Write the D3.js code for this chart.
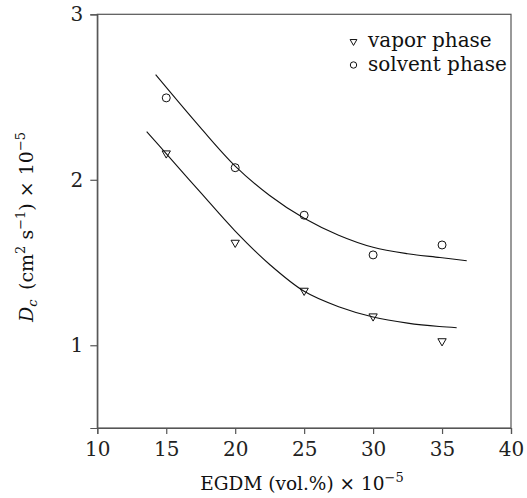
<!DOCTYPE html>
<html><head><meta charset="utf-8">
<script src="https://cdn.jsdelivr.net/npm/d3@7"></script>
<style>body{margin:0;background:#fff}svg{display:block}</style>
</head><body><svg id="c" width="527" height="498"></svg>
<script>
const xTicks = [10, 15, 20, 25, 30, 35, 40];
const yTicks = [1, 2, 3];
const egdm = [15, 20, 25, 30, 35];
const vapor = [2.16, 1.62, 1.33, 1.175, 1.025];
const solvent = [2.495, 2.073, 1.786, 1.546, 1.606];
// fitted trend curves
const vaporFitX = [13.58, 14.98, 17.5, 20, 22.5, 25, 27.5, 30, 32.5, 34.8, 36.06];
const vaporFitY = [2.291, 2.16, 1.922, 1.69, 1.488, 1.326, 1.233, 1.171, 1.134, 1.113, 1.106];
const solventFitX = [14.23, 17.45, 20, 22.5, 25, 27.5, 30, 32.5, 34.85, 36.79];
const solventFitY = [2.635, 2.318, 2.083, 1.905, 1.767, 1.665, 1.592, 1.553, 1.530, 1.511];
const legendLabels = ["vapor phase", "solvent phase"];

const svg = d3.select("#c");
const L = 97.3, R = 511, T = 14.3, B = 428;
const x = d3.scaleLinear().domain([10, 40]).range([L, R]);
const y = d3.scaleLinear().domain([0.5, 3]).range([B, T]);
const font = "DejaVu Serif";
const axCol = "#555";

// frame
svg.append("rect").attr("x", L).attr("y", T).attr("width", R - L).attr("height", B - T)
  .attr("fill", "none").attr("stroke", axCol).attr("stroke-width", 1.2);

const xa = svg.append("g").attr("transform", `translate(0,${B})`)
  .call(d3.axisBottom(x).tickValues(xTicks).tickSize(6).tickPadding(8).tickFormat(d3.format("d")));
const ya = svg.append("g").attr("transform", `translate(${L},0)`)
  .call(d3.axisLeft(y).tickValues(yTicks).tickSize(7).tickPadding(7).tickFormat(d3.format("d")));
[xa, ya].forEach(a => {
  a.select(".domain").attr("stroke", axCol).attr("stroke-width", 1.2);
  a.selectAll(".tick line").attr("stroke", axCol).attr("stroke-width", 1.2);
  a.selectAll("text").attr("font-family", font).attr("font-size", 20).attr("fill", "#222");
});

// curves
const line = d3.line().x(d => x(d[0])).y(d => y(d[1])).curve(d3.curveCatmullRom.alpha(0.5));
svg.append("path").datum(d3.zip(solventFitX, solventFitY)).attr("d", line)
  .attr("fill", "none").attr("stroke", "#111").attr("stroke-width", 1.1);
svg.append("path").datum(d3.zip(vaporFitX, vaporFitY)).attr("d", line)
  .attr("fill", "none").attr("stroke", "#111").attr("stroke-width", 1.1);

// markers
const tri = d3.symbol().type(d3.symbolTriangle).size(30);
svg.append("g").selectAll("path").data(d3.zip(egdm, vapor)).join("path")
  .attr("d", tri).attr("transform", d => `translate(${x(d[0])},${y(d[1])}) rotate(180)`)
  .attr("fill", "none").attr("stroke", "#111").attr("stroke-width", 1);
svg.append("g").selectAll("circle").data(d3.zip(egdm, solvent)).join("circle")
  .attr("cx", d => x(d[0])).attr("cy", d => y(d[1])).attr("r", 4)
  .attr("fill", "none").attr("stroke", "#111").attr("stroke-width", 1);

// legend
const lg = svg.append("g");
lg.append("path").attr("d", d3.symbol().type(d3.symbolTriangle).size(20))
  .attr("transform", "translate(353.5,41.5) rotate(180)").attr("fill", "none").attr("stroke", "#111");
lg.append("circle").attr("cx", 353.5).attr("cy", 65).attr("r", 3.2).attr("fill", "none").attr("stroke", "#111");
legendLabels.forEach((t, i) => lg.append("text").attr("x", 368).attr("y", 47 + i * 24)
  .attr("font-family", font).attr("font-size", 20).attr("fill", "#111").text(t));

// axis titles
const xt = svg.append("text").attr("x", 302).attr("y", 490).attr("text-anchor", "middle")
  .attr("font-family", font).attr("font-size", 18.5).attr("fill", "#111");
xt.append("tspan").text("EGDM (vol.%) × 10");
xt.append("tspan").attr("dy", -8).attr("font-size", 13).text("−5");

const yt = svg.append("text").attr("transform", "translate(33,322) rotate(-90)").attr("text-anchor", "start")
  .attr("font-family", font).attr("font-size", 19).attr("fill", "#111");
yt.append("tspan").attr("font-style", "italic").text("D");
yt.append("tspan").attr("font-style", "italic").attr("dy", 4).attr("font-size", 13).text("c");
yt.append("tspan").attr("dy", -4).text("\u2002(cm");
yt.append("tspan").attr("dy", -8).attr("font-size", 13).text("2");
yt.append("tspan").attr("dy", 8).text(" s");
yt.append("tspan").attr("dy", -8).attr("font-size", 13).text("−1");
yt.append("tspan").attr("dy", 8).text(") × 10");
yt.append("tspan").attr("dy", -8).attr("font-size", 13).text("−5");
</script></body></html>
